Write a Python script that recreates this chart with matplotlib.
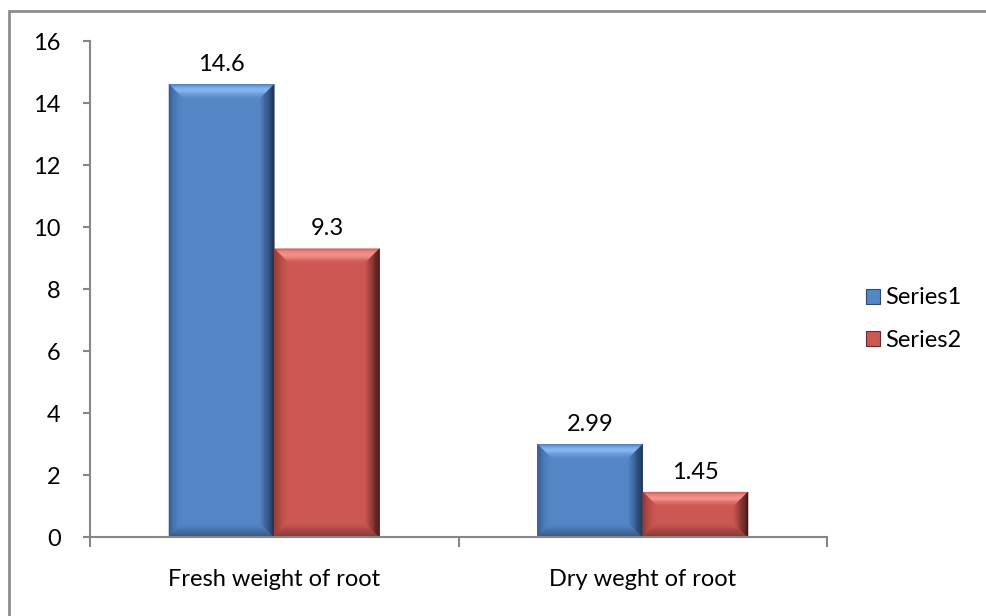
import numpy as np
import matplotlib.pyplot as plt
from matplotlib.patches import Polygon, Rectangle
from matplotlib.colors import to_rgb

# chart data
categories = ["Fresh weight of root", "Dry weght of root"]
series_names = ["Series1", "Series2"]
series1 = [14.6, 2.99]
series2 = [9.3, 1.45]
value_labels1 = ["14.6", "2.99"]
value_labels2 = ["9.3", "1.45"]
y_ticks = [0, 2, 4, 6, 8, 10, 12, 14, 16]

plt.rcParams['font.family'] = ['Lato', 'DejaVu Sans']
FS = 17

W, H = 986, 616
fig = plt.figure(figsize=(W / 100, H / 100), dpi=100)

# outer chart border (only top/left visible in the reference)
fig.patches.append(Rectangle((9 / W, -0.1), 1.2, (H - 11) / H + 0.1,
                             transform=fig.transFigure, fill=False,
                             edgecolor="#8c8c8c", linewidth=2))

ax_left, ax_right, ax_top, ax_bot = 90, 827, 41, 537
ax = fig.add_axes([ax_left / W, (H - ax_bot) / H,
                   (ax_right - ax_left) / W, (ax_bot - ax_top) / H])
ax.set_xlim(-0.5, 1.5)
ax.set_ylim(0, 16)

# pixel -> data scale, for bevel size
px_x = 2.0 / (ax_right - ax_left)
px_y = 16.0 / (ax_bot - ax_top)
bev = 14

# bevel colour profiles, outer edge -> inner face
blue = {
    "face": "#5587c6",
    "top": ["#4f7cb8", "#7fb0ee", "#8bbaf2", "#6a9ad8", "#5587c6"],
    "left": ["#35598a", "#4372ad", "#4f80bf", "#5587c6"],
    "right": ["#1d2f4c", "#2c4a74", "#3e659d", "#5182c0"],
    "bottom": ["#32537f", "#3f6699", "#4d7cb8", "#5587c6"],
}
red = {
    "face": "#cd5853",
    "top": ["#c4625e", "#f38a85", "#f59893", "#e0716c", "#cd5853"],
    "left": ["#8e3835", "#ac4642", "#c3524e", "#cd5853"],
    "right": ["#3e1716", "#6a2a28", "#9c3f3b", "#c6544f"],
    "bottom": ["#7f3431", "#9b3f3c", "#b84c48", "#cd5853"],
}

gap = 1.5
bw = 1.0 / (2 + gap)


def lerp(c1, c2, t):
    a, b = np.array(to_rgb(c1)), np.array(to_rgb(c2))
    return a + (b - a) * t


def grad_band(outer, inner, cols, n=12):
    # outer = (A, B), inner = (A', B'), colour fades outer -> inner
    A, B = np.array(outer[0]), np.array(outer[1])
    Ai, Bi = np.array(inner[0]), np.array(inner[1])
    m = len(cols) - 1
    for k in range(n):
        t0, t1 = k / n, (k + 1) / n
        tm = (t0 + t1) / 2 * m
        j = min(int(tm), m - 1)
        c = lerp(cols[j], cols[j + 1], tm - j)
        pts = [A + (Ai - A) * t0, B + (Bi - B) * t0, B + (Bi - B) * t1, A + (Ai - A) * t1]
        ax.add_patch(Polygon(pts, facecolor=c, edgecolor=c, linewidth=0.3))


def bevel_bar(x0, height, pal):
    x1 = x0 + bw
    y0, y1 = 0, height
    dx = bev * px_x
    dy = min(bev * px_y, height / 2.2)
    ax.add_patch(Rectangle((x0, y0), bw, height, facecolor=pal["face"], edgecolor="none"))
    grad_band([(x0, y1), (x1, y1)], [(x0 + dx, y1 - dy), (x1 - dx, y1 - dy)], pal["top"])
    grad_band([(x0, y0), (x1, y0)], [(x0 + dx, y0 + dy), (x1 - dx, y0 + dy)], pal["bottom"])
    grad_band([(x0, y0), (x0, y1)], [(x0 + dx, y0 + dy), (x0 + dx, y1 - dy)], pal["left"])
    grad_band([(x1, y0), (x1, y1)], [(x1 - dx, y0 + dy), (x1 - dx, y1 - dy)], pal["right"])


x = np.arange(len(categories))
for i in range(len(categories)):
    bevel_bar(x[i] - bw, series1[i], blue)
    bevel_bar(x[i], series2[i], red)
    ax.text(x[i] - bw / 2, series1[i] + 0.3, value_labels1[i],
            ha="center", va="bottom", fontsize=FS, color="black")
    ax.text(x[i] + bw / 2, series2[i] + 0.3, value_labels2[i],
            ha="center", va="bottom", fontsize=FS, color="black")

# axes styling
for s in ["top", "right"]:
    ax.spines[s].set_visible(False)
for s in ["left", "bottom"]:
    ax.spines[s].set_color("#868686")
    ax.spines[s].set_linewidth(1.5)
ax.spines["bottom"].set_zorder(5)

ax.set_yticks(y_ticks)
ax.set_yticklabels([str(v) for v in y_ticks], fontsize=FS)
ax.tick_params(axis="y", direction="out", length=5, width=1.5, color="#868686", pad=16)

ax.set_xticks([-0.5, 0.5, 1.5])
ax.set_xticklabels([])
ax.tick_params(axis="x", which="major", direction="out", length=7, width=1.5, color="#868686")
ax.set_xticks(x, minor=True)
ax.set_xticklabels(categories, minor=True, fontsize=FS)
ax.tick_params(axis="x", which="minor", length=0, pad=23)

# legend
handles = [Rectangle((0, 0), 1, 1, facecolor=blue["face"], edgecolor=blue["right"][1], linewidth=0.8),
           Rectangle((0, 0), 1, 1, facecolor=red["face"], edgecolor=red["right"][1], linewidth=0.8)]
fig.legend(handles, series_names, loc="center left",
           bbox_to_anchor=(845 / W, 1 - 319 / H), frameon=False, fontsize=FS,
           handlelength=0.6, handleheight=0.6, handletextpad=0.2, labelspacing=0.9)

fig.savefig("out.png", dpi=100)
